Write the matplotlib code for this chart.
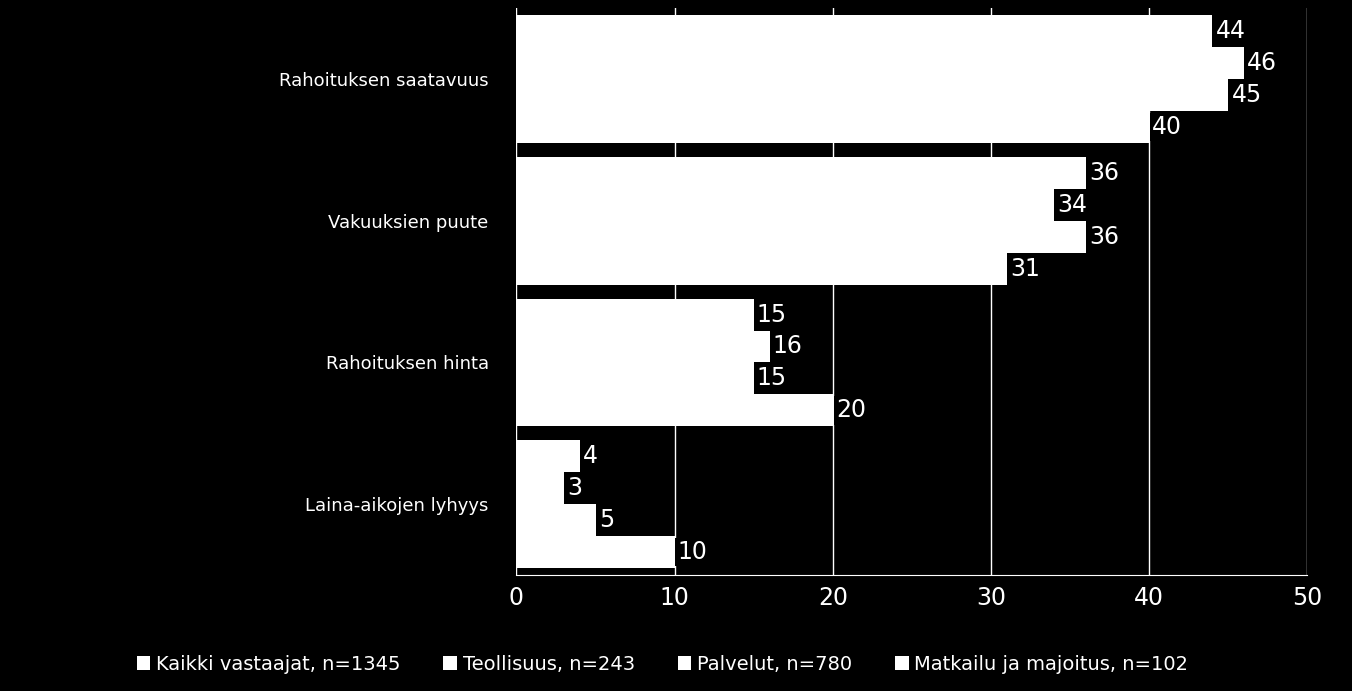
import matplotlib
matplotlib.use("Agg")
import matplotlib.pyplot as plt
import numpy as np

categories = ["Rahoituksen saatavuus", "Vakuuksien puute", "Rahoituksen hinta", "Laina-aikojen lyhyys"]
series = ["Kaikki vastaajat, n=1345", "Teollisuus, n=243", "Palvelut, n=780", "Matkailu ja majoitus, n=102"]
values = [
    [44, 36, 15, 4],
    [46, 34, 16, 3],
    [45, 36, 15, 5],
    [40, 31, 20, 10],
]

fig = plt.figure(figsize=(13.52, 6.91), dpi=100, facecolor="black")
ax = fig.add_axes([0.382, 0.168, 0.585, 0.820], facecolor="black")
h = 0.225
y = np.arange(len(categories))
for i, (name, vals) in enumerate(zip(series, values)):
    pos = y - 1.5 * h + i * h
    ax.barh(pos, vals, height=h, color="white", edgecolor="none", label=name, zorder=2)
    for p, v in zip(pos, vals):
        ax.text(v + 0.2, p, str(v), color="white", fontsize=17, va="center", ha="left",
                bbox=dict(boxstyle="square,pad=0.1", fc="black", ec="none"), zorder=3)
ax.set_xlim(0, 50)
ax.set_ylim(len(categories) - 0.5, -0.5)
ax.set_xticks([0, 10, 20, 30, 40, 50])
ax.grid(axis="x", color="white", linewidth=1, zorder=1)
ax.set_yticks(y)
ax.set_yticklabels(categories, color="white", fontsize=13)
ax.tick_params(axis="x", colors="white", labelsize=17, length=0, pad=8)
ax.tick_params(axis="y", length=0, pad=20)
for s in ax.spines.values():
    s.set_visible(False)
ax.spines["bottom"].set_visible(True)
ax.spines["bottom"].set_color("white")
leg = fig.legend(loc="lower center", bbox_to_anchor=(0.49, 0.0), ncol=4, frameon=False,
                 fontsize=14, labelcolor="white", handlelength=0.7, handleheight=0.7,
                 handletextpad=0.3, columnspacing=2.2)
fig.savefig("out.png", facecolor="black")
